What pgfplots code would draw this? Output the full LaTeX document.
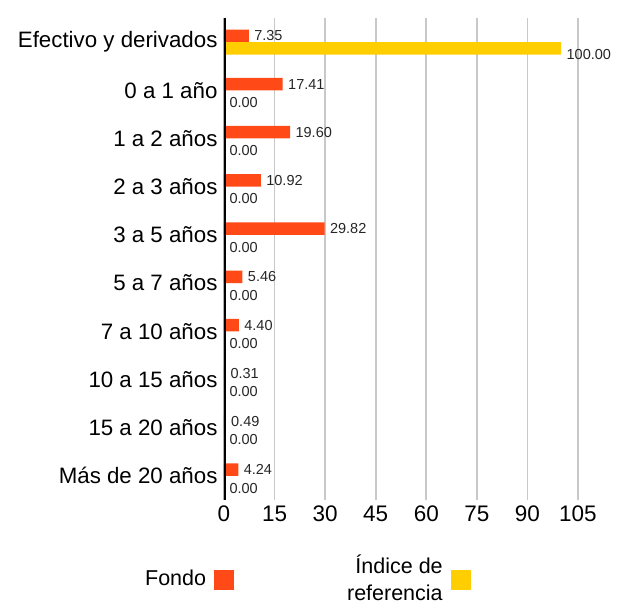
\documentclass[border=0pt]{standalone}
\usepackage{pgfplots}
\pgfplotsset{compat=1.18}
\usepackage{fontspec}
\setmainfont{Liberation Sans}
\definecolor{fondo}{HTML}{FF4A17}
\definecolor{indice}{HTML}{FFCE00}
\definecolor{gridgray}{HTML}{C8C8C8}
\begin{document}
\begin{tikzpicture}
\begin{axis}[
    xbar,
    scale only axis,
    width=354pt, height=482pt,
    xmin=0, xmax=105,
    ymin=-0.5, ymax=9.5,
    xtick={0,15,...,105},
    ytick={0,...,9},
    yticklabels={Más de 20 años,15 a 20 años,10 a 15 años,7 a 10 años,5 a 7 años,3 a 5 años,2 a 3 años,1 a 2 años,0 a 1 año,Efectivo y derivados},
    /pgf/number format/assume math mode=true,
    xmajorgrids,
    major grid style={gridgray, line width=1.6pt},
    axis line style={draw=none},
    major tick length=0pt,
    tick label style={font=\fontsize{22.5}{24}\selectfont},
    yticklabel style={font=\fontsize{22.3}{24}\selectfont, xshift=-3pt},
    xticklabel style={yshift=-2pt},
    bar width=12.5pt,
    nodes near coords,
    nodes near coords style={font=\fontsize{14.5}{16}\selectfont, text=black!85, xshift=2pt,
        /pgf/number format/fixed, /pgf/number format/fixed zerofill,
        /pgf/number format/precision=2, /pgf/number format/assume math mode=true},
    legend columns=2,
    legend plot pos=right,
    legend style={draw=none, fill=none, inner sep=0pt, at={(-0.229,-0.110)}, anchor=north west,
        font=\fontsize{21.5}{26.5}\selectfont, cells={align=right},
        /tikz/every odd column/.append style={column sep=6pt},
        /tikz/every even column/.append style={column sep=111pt}},
    legend image code/.code={\fill[#1] (0pt,-11pt) rectangle (20pt,9pt);},
]
\addplot[fill=fondo, draw=none, bar shift=6.25pt] coordinates {
    (7.35,9) (17.41,8) (19.60,7) (10.92,6) (29.82,5) (5.46,4) (4.40,3) (0.31,2) (0.49,1) (4.24,0)
};
\addlegendentry{Fondo}
\addplot[fill=indice, draw=none, bar shift=-6.25pt,
    nodes near coords style={yshift=-6pt}] coordinates {
    (100,9) (0,8) (0,7) (0,6) (0,5) (0,4) (0,3) (0,2) (0,1) (0,0)
};
\addlegendentry{Índice de\\referencia}
\draw[black, line width=4pt] (axis cs:0,-0.5) -- (axis cs:0,9.5);
\coordinate (bl) at (rel axis cs:0,0);
\coordinate (tr) at (rel axis cs:1,1);
\end{axis}
\pgfresetboundingbox
\useasboundingbox ([xshift=-224pt,yshift=-105pt]bl) rectangle ([xshift=51pt,yshift=18pt]tr);
\end{tikzpicture}
\end{document}
